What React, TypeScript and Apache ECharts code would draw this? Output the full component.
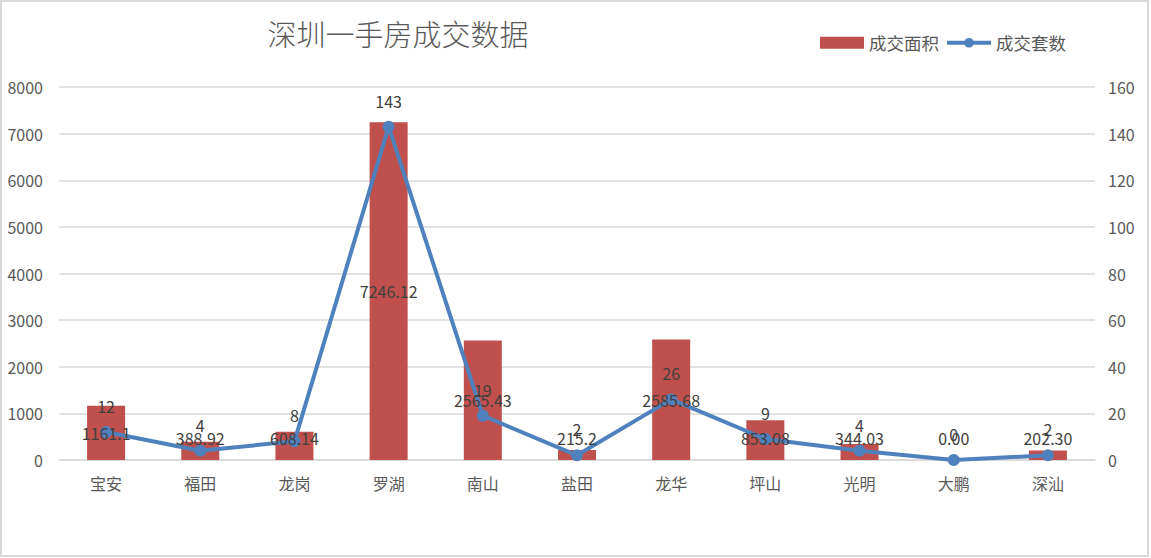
import React, { useEffect, useRef } from "react";
import * as echarts from "echarts";

const categories = ["宝安", "福田", "龙岗", "罗湖", "南山", "盐田", "龙华", "坪山", "光明", "大鹏", "深汕"];
const areaValues = [1161.1, 388.92, 608.14, 7246.12, 2565.43, 215.2, 2585.68, 853.08, 344.03, 0, 202.3];
const areaLabels = ["1161.1", "388.92", "608.14", "7246.12", "2565.43", "215.2", "2585.68", "853.08", "344.03", "0.00", "202.30"];
const countValues = [12, 4, 8, 143, 19, 2, 26, 9, 4, 0, 2];
const leftTicks = [0, 8000, 1000];
const rightTicks = [0, 160, 20];

const FONT = "'Noto Sans CJK SC', 'Noto Sans', sans-serif";

export default function App() {
  const ref = useRef<HTMLDivElement>(null);
  useEffect(() => {
    if (!ref.current) return;
    const chart = echarts.init(ref.current, null, { renderer: "svg" });
    const labelData = areaValues.map((v, i) => {
      const small = v < 1050;
      return {
        value: v,
        label: small
          ? { position: "insideBottom", distance: 14, formatter: areaLabels[i] }
          : { position: "inside", formatter: areaLabels[i] },
      };
    });
    chart.setOption({
      animation: false,
      backgroundColor: "#ffffff",
      graphic: [
        {
          type: "rect",
          shape: { x: 1, y: 1, width: 1147, height: 555 },
          style: { fill: "none", stroke: "#d9d9d9", lineWidth: 2 },
          z: 100,
          silent: true,
        },
      ],
      title: {
        text: "深圳一手房成交数据",
        left: 393,
        textAlign: "center",
        top: 13,
        textStyle: { fontFamily: FONT, fontSize: 29, fontWeight: 300, color: "#595959" },
      },
      legend: {
        right: 80,
        top: 29,
        itemGap: 6,
        itemWidth: 44,
        itemHeight: 12,
        textStyle: { fontFamily: FONT, fontSize: 17.5, color: "#595959" },
        data: [
          { name: "成交面积", icon: "rect" },
          { name: "成交套数", lineStyle: { width: 4 }, itemStyle: { color: "#4f81bd" } },
        ],
      },
      grid: { left: 59, right: 56, top: 87, bottom: 98 },
      xAxis: {
        type: "category",
        data: categories,
        axisLine: { lineStyle: { color: "#d9d9d9", width: 1.5 } },
        axisTick: { show: false },
        axisLabel: { fontFamily: FONT, fontSize: 16, color: "#595959", margin: 15 },
      },
      yAxis: [
        {
          type: "value",
          min: leftTicks[0],
          max: leftTicks[1],
          interval: leftTicks[2],
          axisLine: { show: false },
          axisTick: { show: false },
          splitLine: { lineStyle: { color: "#d9d9d9", width: 1.5 } },
          axisLabel: {
            fontFamily: FONT,
            fontSize: 16,
            color: "#595959",
            margin: 16,
            formatter: (v: number) => String(v),
          },
        },
        {
          type: "value",
          min: rightTicks[0],
          max: rightTicks[1],
          interval: rightTicks[2],
          axisLine: { show: false },
          axisTick: { show: false },
          splitLine: { show: false },
          axisLabel: {
            fontFamily: FONT,
            fontSize: 16,
            color: "#595959",
            margin: 13,
            formatter: (v: number) => String(v),
          },
        },
      ],
      series: [
        {
          name: "成交面积",
          type: "bar",
          yAxisIndex: 0,
          barWidth: 38,
          itemStyle: { color: "#c0504d" },
          data: areaValues,
          z: 2,
        },
        {
          name: "成交套数",
          type: "line",
          yAxisIndex: 1,
          symbol: "circle",
          symbolSize: 12,
          lineStyle: { color: "#4f81bd", width: 4 },
          itemStyle: { color: "#4f81bd" },
          label: {
            show: true,
            position: "top",
            distance: 12,
            fontFamily: FONT,
            fontSize: 16,
            color: "#404040",
          },
          data: countValues,
          z: 3,
        },
        {
          name: "面积标签",
          type: "bar",
          yAxisIndex: 0,
          barWidth: 38,
          barGap: "-100%",
          silent: true,
          itemStyle: { color: "rgba(0,0,0,0)" },
          label: { show: true, fontFamily: FONT, fontSize: 16, color: "#404040" },
          data: labelData,
          z: 5,
        },
      ],
    });
    return () => chart.dispose();
  }, []);
  return (
    <div
      ref={ref}
      style={{ position: "fixed", left: 0, top: 0, width: 1151, height: 558, background: "#fff" }}
    />
  );
}
